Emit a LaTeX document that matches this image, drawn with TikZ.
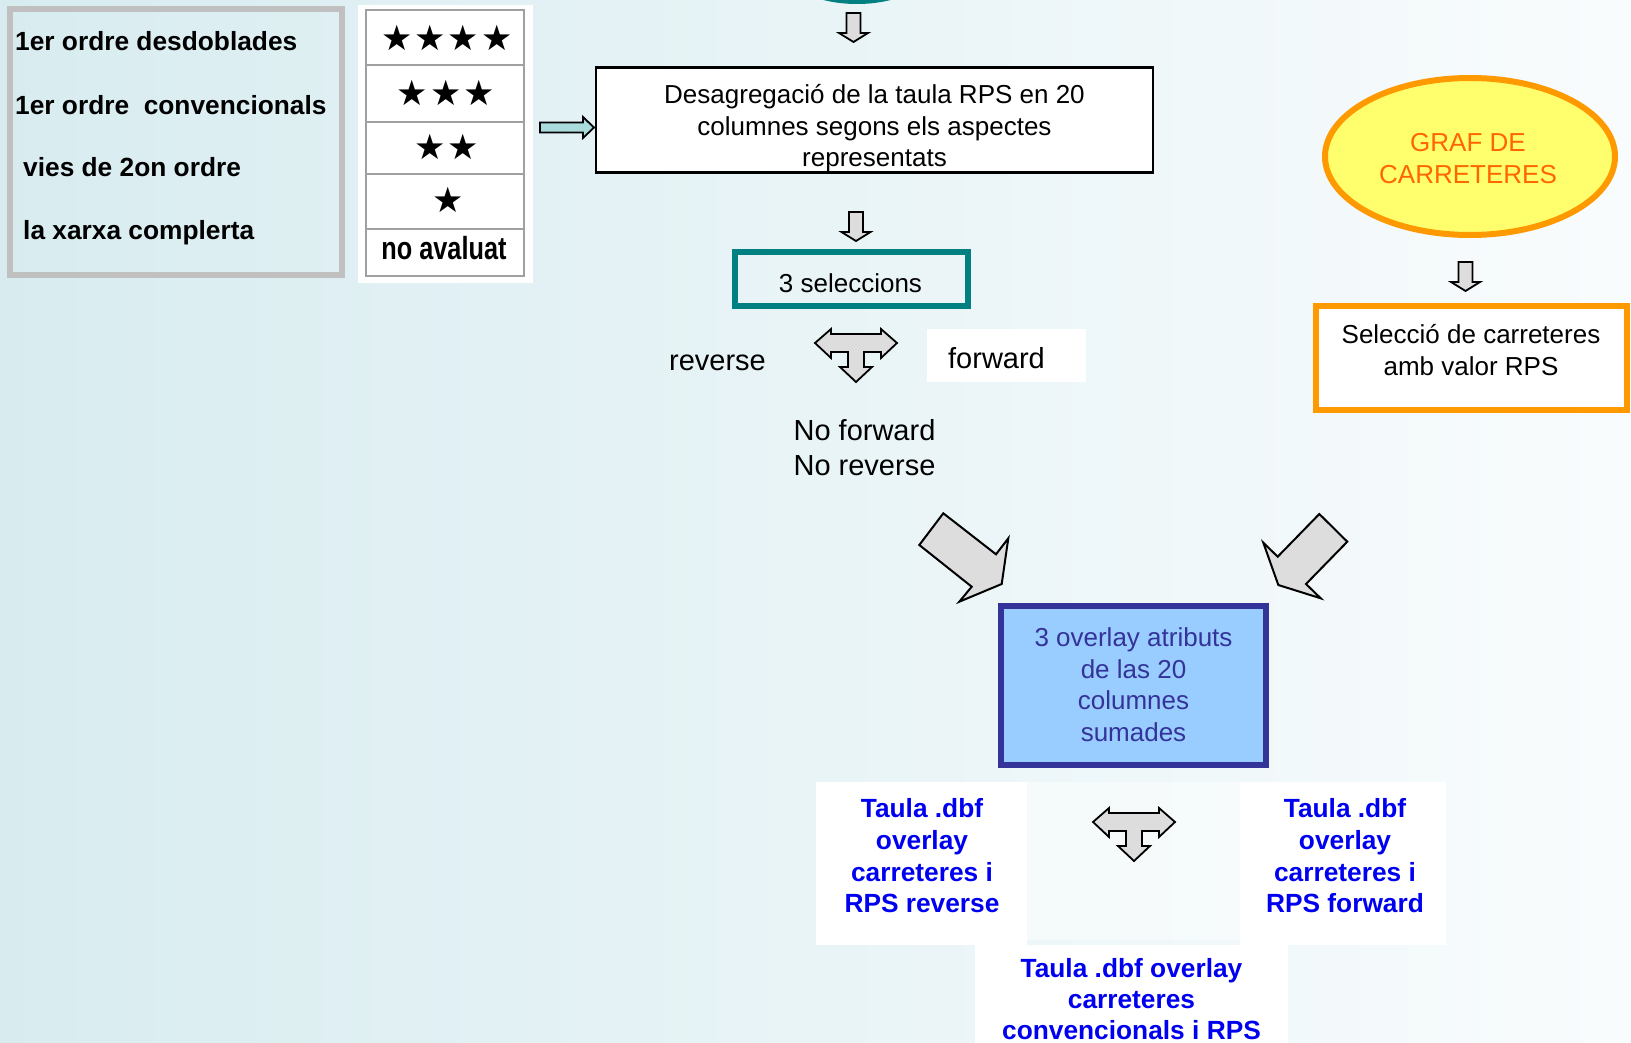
\documentclass[tikz,border=0pt]{standalone}
\usepackage{fontspec}
\usepackage{graphicx}
\setmainfont{Liberation Sans}
\newfontfamily\symfont{DejaVu Sans}
\usetikzlibrary{shapes.geometric}
\definecolor{bgL}{RGB}{216,236,240}
\definecolor{bgM}{RGB}{238,246,248}
\definecolor{bgR}{RGB}{249,252,253}
\definecolor{legendgray}{RGB}{192,192,192}
\definecolor{tablegray}{RGB}{160,160,160}
\definecolor{arrowgray}{RGB}{221,221,221}
\definecolor{arrowteal}{RGB}{170,220,222}
\definecolor{tealc}{RGB}{0,128,128}
\definecolor{boxblue}{RGB}{153,204,255}
\definecolor{darkblue}{RGB}{51,51,153}
\definecolor{txtblue}{RGB}{0,0,240}
\definecolor{orangec}{RGB}{255,153,0}
\definecolor{orangetxt}{RGB}{255,102,0}
\definecolor{yellowc}{RGB}{255,255,110}
\begin{document}
\begin{tikzpicture}[x=1pt,y=-1pt,
  t26/.style={inner sep=0pt, anchor=base, font=\fontsize{26}{31}\selectfont},
  t29/.style={inner sep=0pt, anchor=base, font=\fontsize{29}{34}\selectfont},
  b26/.style={inner sep=0pt, anchor=base, font=\bfseries\fontsize{26.3}{31}\selectfont},
  bluetxt/.style={b26, text=txtblue},
  startxt/.style={inner sep=0pt, anchor=center, font=\symfont\fontsize{35}{35}\selectfont},
  blk/.style={draw=black, line width=1.8pt, fill=arrowgray, line join=miter},
  bigblk/.style={draw=black, line width=2pt, fill=arrowgray, line join=miter},
  tabline/.style={draw=tablegray, line width=1.5pt}
]
\useasboundingbox (0,0) rectangle (1631,1043);
\clip (0,0) rectangle (1631,1043);
% background
\shade[left color=bgL, middle color=bgM, right color=bgR] (0,0) rectangle (1631,1043);

% teal ellipse at the top (cut off)
\draw[tealc, line width=6pt, fill=tealc] (857,-40) ellipse (77 and 41);

% legend box
\draw[legendgray, line width=6pt] (10,9) rectangle (342,275);
\node[b26, anchor=base west] (l1) at (15,51) {1er ordre desdoblades};
\node[b26, anchor=base west] (l2) at (15,115) {1er ordre\ \ convencionals};
\node[b26, anchor=base west] (l3) at (23,177) {vies de 2on ordre};
\node[b26, anchor=base west] (l4) at (23,240) {la xarxa complerta};

% star table
\fill[white] (358,5) rectangle (533,283);
\draw[tabline] (366,10) rectangle (524,276);
\draw[tabline] (366,65) -- (524,65);
\draw[tabline] (366,122) -- (524,122);
\draw[tabline] (366,174) -- (524,174);
\draw[tabline] (366,229) -- (524,229);
\node[startxt] (s4) at (447,38) {★\hspace{2pt}★\hspace{2pt}★\hspace{2pt}★};
\node[startxt] (s3) at (446,93) {★\hspace{2pt}★\hspace{2pt}★};
\node[startxt] (s2) at (447,147) {★\hspace{2pt}★};
\node[startxt] (s1) at (448,200) {★};
\node[inner sep=0pt, anchor=base, font=\bfseries\fontsize{32}{32}\selectfont] (s0) at (444,260) {\scalebox{0.79}[1]{no avaluat}};

% right arrow
\draw[draw=black, line width=1.8pt, fill=arrowteal] (540,122.5) -- (583,122.5) -- (583,117) -- (594,127.5) -- (583,138) -- (583,132.5) -- (540,132.5) -- cycle;

% down arrow top
\draw[blk, shift={(853.5,13)}] (-7,0) -- (7,0) -- (7,20) -- (14.5,20) -- (0,29) -- (-14.5,20) -- (-7,20) -- cycle;

% Desagregacio box
\draw[black, line width=2.5pt, fill=white] (596,67.5) rectangle (1153,172.5);
\node[t26] (d1) at (874.5,104) {Desagregació de la taula RPS en 20};
\node[t26] (d2) at (874.5,135.5) {columnes segons els aspectes};
\node[t26] (d3) at (874.5,167) {representats};

% down arrow 2
\draw[blk, shift={(856,212)}] (-7,0) -- (7,0) -- (7,20) -- (14.5,20) -- (0,29) -- (-14.5,20) -- (-7,20) -- cycle;

% 3 seleccions
\draw[tealc, line width=6pt] (735,252.5) rectangle (967.5,305.5);
\node[t26] (sel) at (850.5,292) {3 seleccions};

% T arrow 1
\draw[blk, shift={(856,329)}] (-41,14) -- (-25,0) -- (-25,5) -- (25,5) -- (25,0) -- (41,14) -- (25,29) -- (25,23) -- (8,23) -- (8,38) -- (16,38) -- (0,53) -- (-16,38) -- (-8,38) -- (-8,23) -- (-25,23) -- (-25,29) -- cycle;

\node[t29] (rev) at (717.5,370) {reverse};
\fill[white] (927,329) rectangle (1086,382);
\node[t29] (fwd) at (996.5,368.5) {forward};
\node[t29] (nf) at (864.5,440) {No forward};
\node[t29] (nr) at (864.5,475) {No reverse};

% GRAF DE CARRETERES
\draw[orangec, line width=6pt, fill=yellowc] (1470,156.5) ellipse (145 and 78.5);
\node[t26, text=orangetxt] (g1) at (1468,152) {GRAF DE};
\node[t26, text=orangetxt] (g2) at (1468,183.5) {CARRETERES};

% down arrow 3
\draw[blk, shift={(1465.5,262)}] (-7,0) -- (7,0) -- (7,20) -- (14.5,20) -- (0,29) -- (-14.5,20) -- (-7,20) -- cycle;

% Seleccio box
\draw[orangec, line width=6pt, fill=white] (1316,306) rectangle (1627,410);
\node[t26] (c1) at (1471,343.5) {Selecció de carreteres};
\node[t26] (c2) at (1471,375) {amb valor RPS};

% big diagonal arrows
\draw[bigblk] (919.3,545) -- (943.3,513.3) -- (996,554.3) -- (1008.3,538.3) -- (1001.7,584) -- (959.3,601.7) -- (971.7,586.7) -- cycle;
\draw[bigblk] (1319.3,514) -- (1347.3,541.7) -- (1306,584) -- (1320.7,598.3) -- (1278.3,585) -- (1263.3,542.7) -- (1277.7,556.7) -- cycle;

% blue box
\draw[darkblue, line width=6pt, fill=boxblue] (1001,606) rectangle (1266,765);
\node[t26, text=darkblue] (o1) at (1133.5,646.5) {3 overlay atributs};
\node[t26, text=darkblue] (o2) at (1133.5,678) {de las 20};
\node[t26, text=darkblue] (o3) at (1133.5,709.5) {columnes};
\node[t26, text=darkblue] (o4) at (1133.5,741) {sumades};

% white panels behind output texts
\fill[white] (816,782) rectangle (1027,945);
\fill[white, opacity=0.45] (1027,782) rectangle (1240,940);
\fill[white] (1240,782) rectangle (1446,945);
\fill[white] (975,945) rectangle (1288,1043);

% T arrow 2
\draw[blk, shift={(1134,808)}] (-41,14) -- (-25,0) -- (-25,5) -- (25,5) -- (25,0) -- (41,14) -- (25,29) -- (25,23) -- (8,23) -- (8,38) -- (16,38) -- (0,53) -- (-16,38) -- (-8,38) -- (-8,23) -- (-25,23) -- (-25,29) -- cycle;

% output texts
\node[bluetxt] (r1) at (922,817) {Taula .dbf};
\node[bluetxt] (r2) at (922,849) {overlay};
\node[bluetxt] (r3) at (922,881) {carreteres i};
\node[bluetxt] (r4) at (922,912.5) {RPS reverse};

\node[bluetxt] (f1) at (1345,817) {Taula .dbf};
\node[bluetxt] (f2) at (1345,849) {overlay};
\node[bluetxt] (f3) at (1345,881) {carreteres i};
\node[bluetxt] (f4) at (1345,912.5) {RPS forward};

\node[bluetxt] (b1) at (1131.5,977) {Taula .dbf overlay};
\node[bluetxt] (b2) at (1131.5,1008.5) {carreteres};
\node[bluetxt] (b3) at (1131.5,1039.5) {convencionals i RPS};
\end{tikzpicture}
\end{document}
